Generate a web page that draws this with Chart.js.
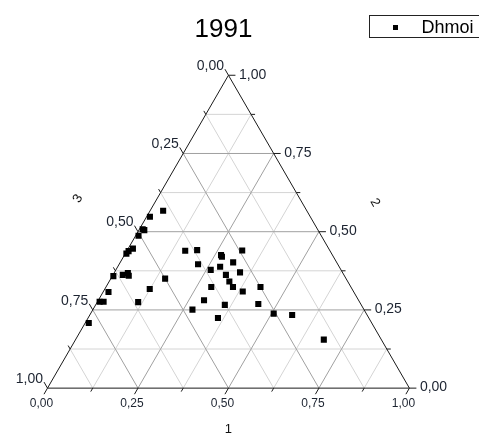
<!DOCTYPE html>
<html><head><meta charset="utf-8">
<script src="https://cdn.jsdelivr.net/npm/chart.js@4.4.0/dist/chart.umd.min.js"></script>
<style>html,body{margin:0;padding:0;background:#fff;overflow:hidden}#wrap{width:479px;height:439px;position:relative}</style>
</head><body><div id="wrap"><canvas id="c" width="479" height="439"></canvas></div>
<script>
const chartTitle = '1991';
const seriesName = 'Dhmoi';
const axisNames = ['1', '2', '3'];
const tickValues = [0, 0.25, 0.5, 0.75, 1];
const tickLabels = ['0,00', '0,25', '0,50', '0,75', '1,00'];
const gridSteps = [0.125, 0.25, 0.375, 0.5, 0.625, 0.75, 0.875];

// ternary compositions (component 1, 2, 3)
const comp1 = [0.036,0.009,0.009,0.015,0.008,0.013,0.005,0.003,0.003,0.027,0.038,0.045,0.150,0.124,0.015,0.006,0.017,0.113,0.010,
  0.275,0.161,0.193,0.267,0.272,0.318,0.218,0.312,0.262,0.283,0.347,0.312,0.332,0.351,0.291,0.385,0.427,0.292,0.357,0.448,0.359,0.506,0.559,0.686];
const comp2 = [0.567,0.548,0.508,0.505,0.487,0.446,0.438,0.430,0.358,0.362,0.368,0.359,0.350,0.317,0.307,0.276,0.276,0.275,0.208,
  0.251,0.439,0.441,0.425,0.420,0.440,0.396,0.402,0.378,0.388,0.370,0.362,0.341,0.323,0.323,0.309,0.323,0.281,0.266,0.269,0.224,0.238,0.234,0.155];
const comp3 = [0.397,0.443,0.483,0.480,0.505,0.541,0.557,0.567,0.639,0.611,0.594,0.596,0.500,0.559,0.678,0.718,0.707,0.612,0.782,
  0.474,0.400,0.366,0.308,0.308,0.242,0.386,0.286,0.360,0.329,0.283,0.326,0.327,0.326,0.386,0.306,0.250,0.427,0.377,0.283,0.417,0.256,0.207,0.159];

const H = Math.sqrt(3) / 2;
const toXY = (a, b, c) => { const s = a + b + c; const A = a / s, B = b / s; return { x: A + B / 2, y: B * H }; };
const points = comp1.map((a, i) => toXY(a, comp2[i], comp3[i]));

const FONT = "'Liberation Sans', Arial, sans-serif";

const ternaryPlugin = {
  id: 'ternary',
  beforeDatasetsDraw(chart) {
    const { ctx, scales: { x, y } } = chart;
    const P = (a, b) => [x.getPixelForValue(a + b / 2), y.getPixelForValue(b * H)];
    const line = (p, q) => { ctx.beginPath(); ctx.moveTo(p[0], p[1]); ctx.lineTo(q[0], q[1]); ctx.stroke(); };
    ctx.save();
    ctx.lineWidth = 1;
    // grid
    [false, true].forEach(major => {
      ctx.strokeStyle = major ? '#a0a0a0' : '#d4d4d4';
      gridSteps.forEach(v => {
        const isMajor = Math.abs(v * 4 - Math.round(v * 4)) < 1e-6;
        if (isMajor !== major) return;
        line(P(0, v), P(1 - v, v));          // constant comp 2
        line(P(v, 0), P(v, 1 - v));          // constant comp 1
        line(P(1 - v, 0), P(0, 1 - v));      // constant comp 3
      });
    });
    // triangle
    ctx.strokeStyle = '#1a1a1a';
    const A = P(0, 0), B = P(1, 0), C = P(0, 1);
    ctx.beginPath(); ctx.moveTo(A[0], A[1]); ctx.lineTo(B[0], B[1]); ctx.lineTo(C[0], C[1]); ctx.closePath(); ctx.stroke();
    // ticks
    const allTicks = [0, 0.125, 0.25, 0.375, 0.5, 0.625, 0.75, 0.875, 1];
    allTicks.forEach(v => {
      const len = (Math.abs(v * 4 - Math.round(v * 4)) < 1e-6) ? 7 : 4;
      let p = P(v, 0); line(p, [p[0] - 0.5 * len, p[1] + H * len]);
      p = P(1 - v, v); line(p, [p[0] + len, p[1]]);
      p = P(0, 1 - v); line(p, [p[0] - 0.5 * len, p[1] - H * len]);
    });
    // tick labels
    ctx.fillStyle = '#1c2330';
    tickValues.forEach((v, i) => {
      const len = 7;
      ctx.font = '12px ' + FONT;
      ctx.textAlign = 'center'; ctx.textBaseline = 'middle';
      let p = P(v, 0);
      ctx.fillText(tickLabels[i], p[0] - 0.5 * len - 2.5, p[1] + H * len + 9.5);
      ctx.font = '14px ' + FONT;
      ctx.textAlign = 'left';
      p = P(1 - v, v);
      ctx.fillText(tickLabels[i], p[0] + len + 3.5, p[1] - 0.5);
      ctx.textAlign = 'right';
      p = P(0, 1 - v);
      ctx.fillText(tickLabels[i], p[0] - 0.5 * len - 1, p[1] - H * len - 3);
    });
    // axis titles
    ctx.font = '13px ' + FONT;
    ctx.textAlign = 'center'; ctx.textBaseline = 'middle';
    ctx.fillStyle = '#111';
    ctx.fillText(axisNames[0], (A[0] + B[0]) / 2, A[1] + 41);
    const mR = [(B[0] + C[0]) / 2, (B[1] + C[1]) / 2];
    ctx.save(); ctx.translate(mR[0] + 56, mR[1] - 29); ctx.rotate(Math.PI / 3); ctx.fillText(axisNames[1], 0, 0); ctx.restore();
    const mL = [(A[0] + C[0]) / 2, (A[1] + C[1]) / 2];
    ctx.save(); ctx.translate(mL[0] - 60, mL[1] - 33); ctx.rotate(-Math.PI / 3); ctx.fillText(axisNames[2], 0, 0); ctx.restore();
    ctx.restore();
  },
  afterDraw(chart) {
    const { ctx } = chart;
    ctx.save();
    ctx.fillStyle = '#000';
    ctx.font = '26px ' + FONT;
    ctx.textAlign = 'center'; ctx.textBaseline = 'alphabetic';
    ctx.fillText(chartTitle, 223.5, 37.3);
    ctx.strokeStyle = '#222'; ctx.lineWidth = 1;
    ctx.strokeRect(369.5, 15.5, 120, 22);
    ctx.fillRect(393, 25, 5, 5);
    ctx.font = '18px ' + FONT;
    ctx.textAlign = 'left';
    ctx.fillText(seriesName, 421.5, 33.3);
    ctx.restore();
  }
};

new Chart(document.getElementById('c'), {
  type: 'scatter',
  data: { datasets: [{ label: seriesName, data: points, pointStyle: 'rect', pointRadius: 4.3, pointBorderWidth: 0, backgroundColor: '#000', borderColor: '#000' }] },
  options: {
    responsive: false, animation: false, devicePixelRatio: 1,
    layout: { padding: 0 },
    events: [],
    scales: {
      x: { type: 'linear', display: false, min: -44 / 368.5, max: -44 / 368.5 + 479 / 368.5 },
      y: { type: 'linear', display: false, min: -47.5 / 368.5, max: -47.5 / 368.5 + 439 / 368.5 }
    },
    plugins: { legend: { display: false }, title: { display: false }, tooltip: { enabled: false } }
  },
  plugins: [ternaryPlugin]
});
</script></body></html>
